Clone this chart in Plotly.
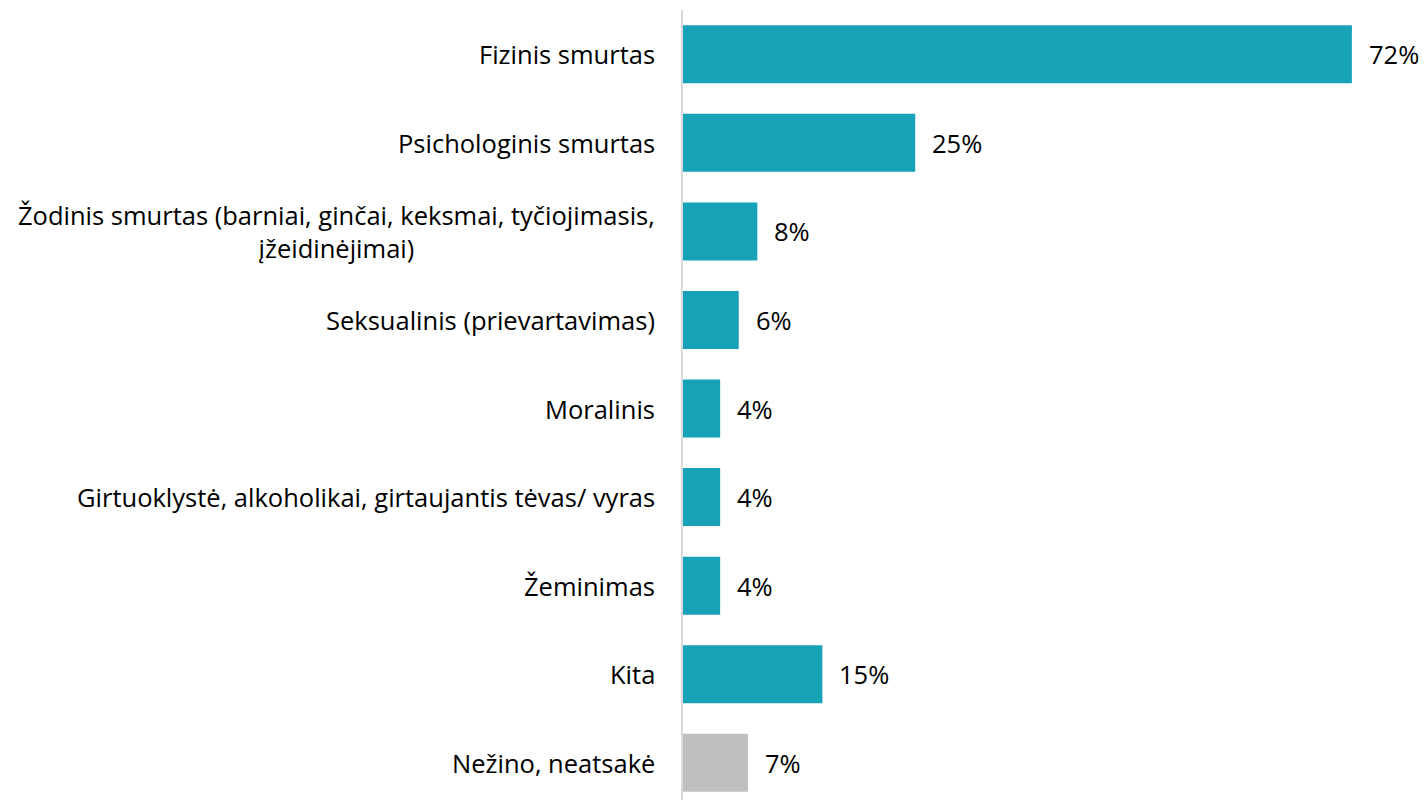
import plotly.graph_objects as go

categories = [
    "Fizinis smurtas",
    "Psichologinis smurtas",
    "Žodinis smurtas (barniai, ginčai, keksmai, tyčiojimasis,<br>įžeidinėjimai)",
    "Seksualinis (prievartavimas)",
    "Moralinis",
    "Girtuoklystė, alkoholikai, girtaujantis tėvas/ vyras",
    "Žeminimas",
    "Kita",
    "Nežino, neatsakė",
]
values = [72, 25, 8, 6, 4, 4, 4, 15, 7]
bar_colors = ["#17a2b8"] * 8 + ["#bfbfbf"]

FONT = "Open Sans"
FONT_SIZE = 25.5

fig = go.Figure(
    go.Bar(
        x=values,
        y=categories,
        orientation="h",
        marker=dict(color=bar_colors, line=dict(width=0)),
        hoverinfo="skip",
    )
)

# value labels to the right of each bar
for cat, val in zip(categories, values):
    fig.add_annotation(
        x=val, y=cat, xref="x", yref="y",
        text=f"{val}%", showarrow=False,
        xanchor="left", xshift=15,
        font=dict(family=FONT, size=FONT_SIZE, color="#000000"),
    )

# category labels, centred lines, right-aligned block
for cat in categories:
    fig.add_annotation(
        x=0, y=cat, xref="paper", yref="y",
        text=cat, showarrow=False,
        xanchor="right", xshift=-26, align="center",
        font=dict(family=FONT, size=FONT_SIZE, color="#000000"),
    )

fig.update_layout(
    width=1425, height=800,
    margin=dict(l=683, r=0, t=10, b=0),
    paper_bgcolor="white", plot_bgcolor="white",
    bargap=0.345,
    showlegend=False,
    xaxis=dict(range=[0, 79.87], visible=False, fixedrange=True),
    yaxis=dict(
        type="category",
        categoryorder="array", categoryarray=categories,
        range=[8.42, -0.5],
        showticklabels=False, ticks="",
        showgrid=False, zeroline=False,
        showline=True, linecolor="#d9d9d9", linewidth=2,
        fixedrange=True,
    ),
)

fig.write_html("out.html")
